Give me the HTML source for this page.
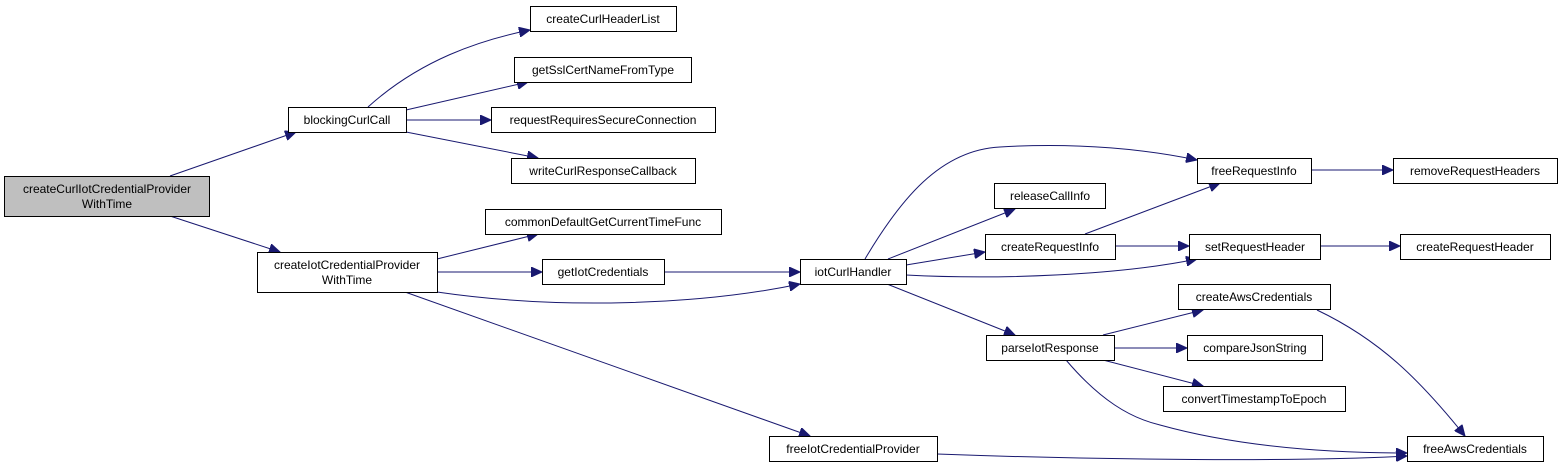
<!DOCTYPE html>
<html><head><meta charset="utf-8"><style>
html,body{margin:0;padding:0;background:#fff;}
svg{display:block;}
text{font-family:"Liberation Sans",Arial,sans-serif;font-size:12px;fill:#000;}
</style></head><body>
<svg width="1559" height="468" viewBox="0 0 1559 468" xmlns="http://www.w3.org/2000/svg">
<defs>
<marker id="a" markerUnits="userSpaceOnUse" markerWidth="12" markerHeight="10" refX="11" refY="5" orient="auto">
<path d="M0,0 L11,5 L0,10 Z" fill="#191970" stroke="#191970"/>
</marker>
</defs>
<g fill="none" stroke="#191970" stroke-width="1" marker-end="url(#a)">
<path d="M170,176 L296,132"/>
<path d="M170,216 L280,252"/>
<path d="M368,107 C420,60 480,40 530,30"/>
<path d="M406,110 L528,82"/>
<path d="M406,120 L491,120"/>
<path d="M406,132 L538,158"/>
<path d="M437,259 L538,234"/>
<path d="M437,272 L542,272"/>
<path d="M437,292 C560,310 700,305 800,284"/>
<path d="M405,292 L810,436"/>
<path d="M664,272 L800,272"/>
<path d="M865,259 C900,200 940,150 1000,147 C1080,142 1150,150 1197,160"/>
<path d="M888,259 L1015,209"/>
<path d="M906,265 L985,252"/>
<path d="M906,275 C1000,280 1120,275 1197,259"/>
<path d="M887,284 L1015,335"/>
<path d="M1085,234 L1220,183"/>
<path d="M1115,246 L1189,246"/>
<path d="M1311,170 L1393,170"/>
<path d="M1320,246 L1400,246"/>
<path d="M1103,335 L1203,310"/>
<path d="M1114,348 L1187,348"/>
<path d="M1103,360 L1203,386"/>
<path d="M1066,360 C1100,400 1130,418 1160,425 C1250,450 1350,453 1407,453"/>
<path d="M1317,310 C1380,340 1420,380 1465,436"/>
<path d="M937,454 C1100,460 1300,462 1407,456"/>
</g>
<g stroke="#000" stroke-width="1">
<rect x="4.5" y="176.5" width="205" height="40" fill="#bfbfbf"/>
<rect x="288.5" y="107.5" width="118" height="25" fill="#fff"/>
<rect x="530.5" y="6.5" width="146" height="25" fill="#fff"/>
<rect x="514.5" y="57.5" width="177" height="25" fill="#fff"/>
<rect x="491.5" y="107.5" width="224" height="25" fill="#fff"/>
<rect x="511.5" y="158.5" width="184" height="25" fill="#fff"/>
<rect x="485.5" y="209.5" width="236" height="25" fill="#fff"/>
<rect x="257.5" y="252.5" width="180" height="40" fill="#fff"/>
<rect x="542.5" y="259.5" width="122" height="25" fill="#fff"/>
<rect x="800.5" y="259.5" width="106" height="25" fill="#fff"/>
<rect x="1197.5" y="158.5" width="114" height="25" fill="#fff"/>
<rect x="994.5" y="183.5" width="111" height="25" fill="#fff"/>
<rect x="985.5" y="234.5" width="130" height="25" fill="#fff"/>
<rect x="1189.5" y="234.5" width="131" height="25" fill="#fff"/>
<rect x="1393.5" y="158.5" width="164" height="25" fill="#fff"/>
<rect x="1400.5" y="234.5" width="150" height="25" fill="#fff"/>
<rect x="1178.5" y="284.5" width="152" height="25" fill="#fff"/>
<rect x="986.5" y="335.5" width="128" height="25" fill="#fff"/>
<rect x="1187.5" y="335.5" width="135" height="25" fill="#fff"/>
<rect x="1163.5" y="386.5" width="182" height="25" fill="#fff"/>
<rect x="769.5" y="436.5" width="168" height="25" fill="#fff"/>
<rect x="1407.5" y="436.5" width="136" height="25" fill="#fff"/>
</g>
<g text-anchor="middle">
<text x="107" y="193">createCurlIotCredentialProvider</text>
<text x="107" y="208">WithTime</text>
<text x="347" y="124">blockingCurlCall</text>
<text x="603" y="23">createCurlHeaderList</text>
<text x="603" y="74">getSslCertNameFromType</text>
<text x="603" y="124">requestRequiresSecureConnection</text>
<text x="603" y="175">writeCurlResponseCallback</text>
<text x="603" y="226">commonDefaultGetCurrentTimeFunc</text>
<text x="347" y="269">createIotCredentialProvider</text>
<text x="347" y="284">WithTime</text>
<text x="603" y="276">getIotCredentials</text>
<text x="853" y="276">iotCurlHandler</text>
<text x="1254" y="175">freeRequestInfo</text>
<text x="1050" y="200">releaseCallInfo</text>
<text x="1050" y="251">createRequestInfo</text>
<text x="1255" y="251">setRequestHeader</text>
<text x="1475" y="175">removeRequestHeaders</text>
<text x="1475" y="251">createRequestHeader</text>
<text x="1254" y="301">createAwsCredentials</text>
<text x="1050" y="352">parseIotResponse</text>
<text x="1255" y="352">compareJsonString</text>
<text x="1254" y="403">convertTimestampToEpoch</text>
<text x="853" y="453">freeIotCredentialProvider</text>
<text x="1475" y="453">freeAwsCredentials</text>
</g>
</svg>
</body></html>
